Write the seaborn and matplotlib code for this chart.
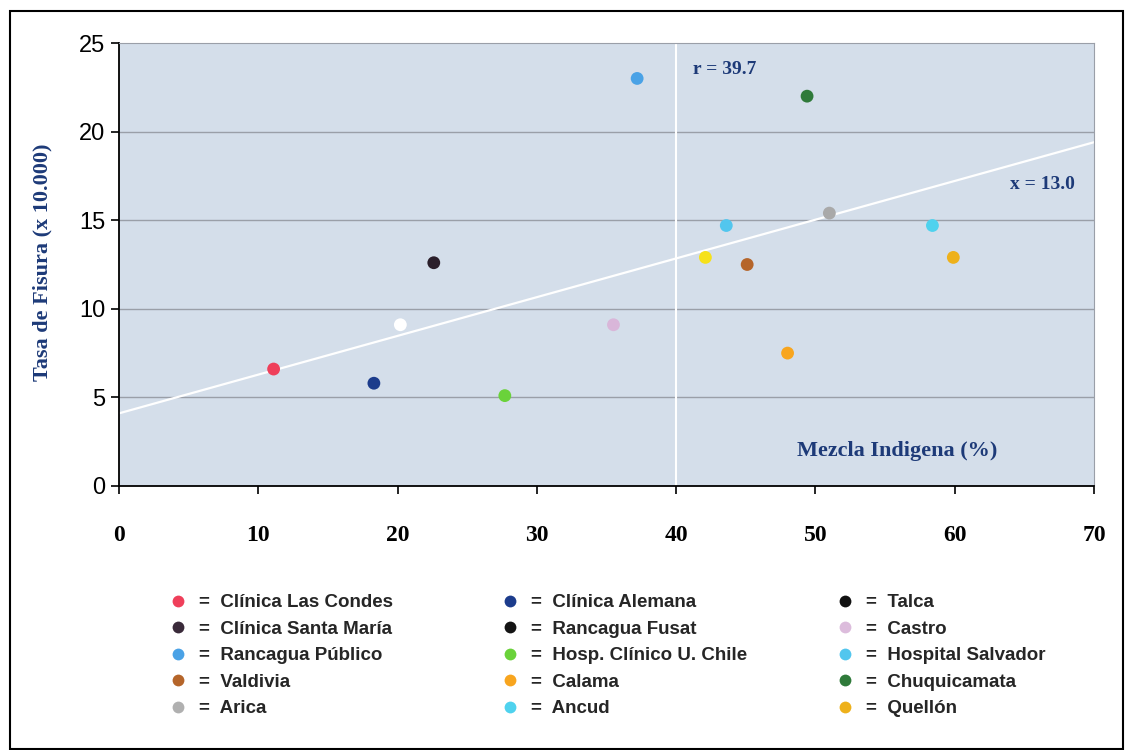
import numpy as np
import pandas as pd
import matplotlib
matplotlib.use("Agg")
import matplotlib.pyplot as plt
from matplotlib.lines import Line2D
from matplotlib.patches import Rectangle
import seaborn as sns

sns.set_style("ticks")

# datos
centros = ['Clínica Las Condes', 'Clínica Alemana', 'Hosp. Clínico U. Chile', 'Rancagua Fusat',
           'Clínica Santa María', 'Castro', 'Rancagua Público', 'Talca', 'Hospital Salvador',
           'Valdivia', 'Calama', 'Chuquicamata', 'Arica', 'Ancud', 'Quellón']
mezcla = [11.1, 18.3, 27.7, 20.2, 22.6, 35.5, 37.2, 42.1, 43.6, 45.1, 48.0, 49.4, 51.0, 58.4, 59.9]
tasa = [6.6, 5.8, 5.1, 9.1, 12.6, 9.1, 23.0, 12.9, 14.7, 12.5, 7.5, 22.0, 15.4, 14.7, 12.9]
color_punto = ['#ef3f5a', '#1c3c8c', '#6ad23a', '#ffffff', '#2b1f2b', '#d9b6d9', '#4aa2e6',
               '#f6e11a', '#52c6ee', '#b5652a', '#f8a51e', '#2f7a3a', '#a9a9a9', '#4fd2ee', '#eeb11b']
# colores del recuadro de leyenda (Talca y Rancagua Fusat en negro)
color_leyenda = ['#ef3f5a', '#1c3c8c', '#6ad23a', '#141414', '#3a2a3a', '#dcbcdc', '#4aa2e6',
                 '#111111', '#52c6ee', '#b5652a', '#f8a51e', '#2f7a3a', '#b0b0b0', '#4fd2ee', '#eeb11b']
columnas_leyenda = [
    ['Clínica Las Condes', 'Clínica Santa María', 'Rancagua Público', 'Valdivia', 'Arica'],
    ['Clínica Alemana', 'Rancagua Fusat', 'Hosp. Clínico U. Chile', 'Calama', 'Ancud'],
    ['Talca', 'Castro', 'Hospital Salvador', 'Chuquicamata', 'Quellón'],
]
# recta de tendencia (extremos)
linea_x = [0, 70]
linea_y = [4.1, 19.4]

df = pd.DataFrame({'centro': centros, 'mezcla': mezcla, 'tasa': tasa})

fig = plt.figure(figsize=(11.25, 7.5), dpi=100)
ax = fig.add_axes([119 / 1125, 1 - 486 / 750, (1094 - 119) / 1125, (486 - 43) / 750])
ax.set_facecolor('#d4deea')

# lineas de grilla
for yv in [5, 10, 15, 20]:
    ax.axhline(yv, color='#9a9fa8', lw=1.0, zorder=1)
ax.axvline(40, color='white', lw=1.5, zorder=1)

sns.lineplot(x=linea_x, y=linea_y, color='white', lw=1.6, ax=ax, zorder=2)

sns.scatterplot(data=df, x='mezcla', y='tasa', hue='centro',
                palette=dict(zip(centros, color_punto)), s=85, edgecolor='none',
                legend=False, ax=ax, zorder=3)

ax.set_xlim(0, 70)
ax.set_ylim(0, 25)
ax.set_xticks(range(0, 71, 10))
ax.set_yticks(range(0, 26, 5))
ax.set_xlabel('')
ax.set_ylabel('')

for lab in ax.get_xticklabels():
    lab.set_fontfamily('Liberation Serif')
    lab.set_fontweight('bold')
    lab.set_fontsize(17)
for lab in ax.get_yticklabels():
    lab.set_fontfamily(['Liberation Sans Narrow', 'Liberation Sans'])
    lab.set_fontsize(17)
ax.tick_params(axis='x', length=6, width=1.2, pad=22, colors='black')
ax.tick_params(axis='y', length=6, width=1.2, pad=4, colors='black')

ax.spines['left'].set_color('black')
ax.spines['bottom'].set_color('black')
ax.spines['left'].set_linewidth(1.3)
ax.spines['bottom'].set_linewidth(1.3)
ax.spines['top'].set_color('#9a9fa8')
ax.spines['right'].set_color('#9a9fa8')

azul = '#1d3a78'
ax.text(41.2, 23.5, 'r = 39.7', color=azul, fontsize=14, fontweight='bold',
        family='Liberation Serif', va='center', ha='left')
ax.text(68.6, 17.0, 'x = 13.0', color=azul, fontsize=14, fontweight='bold',
        family='Liberation Serif', va='center', ha='right')
ax.text(48.7, 2.0, 'Mezcla Indigena (%)', color=azul, fontsize=16, fontweight='bold',
        family='Liberation Serif', va='center', ha='left')
fig.text(42 / 1125, 1 - 262 / 750, 'Tasa de Fisura (x 10.000)', color=azul, fontsize=16,
         fontweight='bold', family='Liberation Serif', rotation=90, va='center', ha='center')

# leyenda en tres columnas
x_col = [169, 501, 836]
for xc, nombres in zip(x_col, columnas_leyenda):
    handles = []
    for nombre in nombres:
        c = color_leyenda[centros.index(nombre)]
        handles.append(Line2D([], [], marker='o', ls='none', markersize=8.5,
                              markerfacecolor=c, markeredgecolor='none'))
    fig.legend(handles, ['=  ' + n for n in nombres], frameon=False,
               loc='upper left', bbox_to_anchor=(xc / 1125, 1 - 594 / 750),
               prop={'family': 'Liberation Sans', 'weight': 'bold', 'size': 13.5},
               handletextpad=0.6, labelspacing=0.5, handlelength=1.0,
               borderpad=0, borderaxespad=0)

# marco exterior
fig.patches.append(Rectangle((10 / 1125, 0.002), 1 - 12 / 1125, 1 - 12 / 750,
                             transform=fig.transFigure, fill=False, ec='black', lw=1.5))

fig.savefig('out.png', dpi=100, facecolor='white')
